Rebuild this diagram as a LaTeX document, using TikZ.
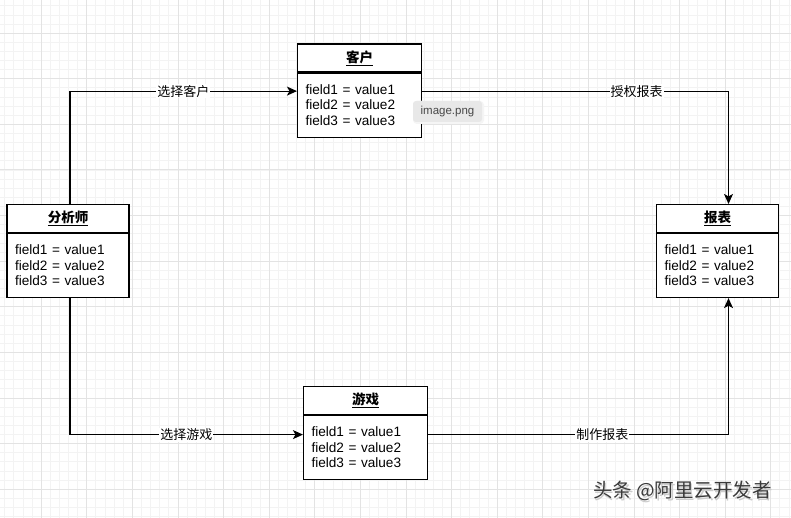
\documentclass[tikz,border=0pt]{standalone}
\usepackage{fontspec}
\setmainfont{Liberation Sans}
\newfontfamily\cjk{Noto Sans CJK SC}
\usetikzlibrary{arrows.meta,positioning}
\definecolor{gridminor}{HTML}{F3F3F3}
\definecolor{gridmajor}{HTML}{E3E3E3}
\definecolor{tipgray}{HTML}{E8E8E8}
\definecolor{wmgray}{HTML}{3A3A3A}
\newcommand{\fields}{field1 = value1\\field2 = value2\\field3 = value3}
\newcommand{\ttl}[1]{\underline{\cjk\bfseries #1}}

\begin{document}
\begin{tikzpicture}[x=1pt,y=-1pt,
  head/.style={draw, line width=1.1pt, fill=white, minimum width=124pt, minimum height=28pt, inner sep=0pt, font=\fontsize{13.5}{15}\selectfont},
  body/.style={draw, line width=1.1pt, fill=white, text width=108pt, minimum height=64pt, align=left, inner xsep=8pt, inner ysep=0pt, font=\fontsize{13.6}{15.5}\selectfont, below=0pt of #1},
  link/.style={line width=1.1pt, -{Stealth[length=10pt,width=9pt,inset=2.5pt]}},
  lbl/.style={fill=white, inner sep=1pt, font=\cjk\fontsize{13}{14}\selectfont},
  wm/.style={font=\cjk\fontsize{19.5}{21}\selectfont, inner sep=0pt}]
\useasboundingbox (0,0) rectangle (791,518);
\fill[white] (0,0) rectangle (791,518);
% background grid
\foreach \i in {0,...,86} \draw[gridminor, line width=0.5pt] ({4.52+9.12*\i},0) -- ++(0,518);
\foreach \i in {0,...,56} \draw[gridminor, line width=0.5pt] (0,{5.64+9.12*\i}) -- ++(791,0);
\foreach \i in {0,...,16} \draw[gridmajor, line width=0.6pt] ({41+45.6*\i},0) -- ++(0,518);
\foreach \i in {0,...,10} \draw[gridmajor, line width=0.6pt] (0,{33+45.6*\i}) -- ++(791,0);

% classes
\node[head] (khH) at (359.5,58) {\ttl{客户}};
\node[body=khH] (khB) {\fields};
\node[head, minimum width=122pt] (fxsH) at (68,218.5) {\ttl{分析师}};
\node[body=fxsH, text width=106pt] (fxsB) {\fields};
\node[head, minimum width=122pt] (bbH) at (717.5,218.5) {\ttl{报表}};
\node[body=bbH, text width=106pt] (bbB) {\fields};
\node[head] (yxH) at (365.5,400.5) {\ttl{游戏}};
\node[body=yxH] (yxB) {\fields};

% links
\draw[link] ([xshift=2pt]fxsH.north) |- node[lbl, pos=0.75] {选择客户} ([yshift=14pt]khB.west);
\draw[link] ([yshift=14pt]khB.east) -| node[lbl, pos=0.35] {授权报表} ([xshift=11pt]bbH.north);
\draw[link] ([xshift=2pt]fxsB.south) |- node[lbl, pos=0.75] {选择游戏} ([yshift=13pt]yxB.west);
\draw[link] ([yshift=13pt]yxB.east) -| node[lbl, pos=0.29] {制作报表} ([xshift=11pt]bbB.south);

% tooltip
\node[fill=black!4, rounded corners=4pt, minimum width=71pt, minimum height=23pt, inner sep=0pt] (tipS) at (448.5,112.5) {};
\node[fill=tipgray, rounded corners=3pt, minimum width=69pt, minimum height=21pt, inner sep=0pt, text=black!72, font=\fontsize{11.5}{13}\selectfont] (tip) at (447.5,111.5) {image.png};

% watermark
\node[wm, text=gray!40] (wmS) at (684,492.5) {头条 @阿里云开发者};
\node[wm, text=wmgray] (wm) at (682.5,491) {头条 @阿里云开发者};
\end{tikzpicture}
\end{document}
